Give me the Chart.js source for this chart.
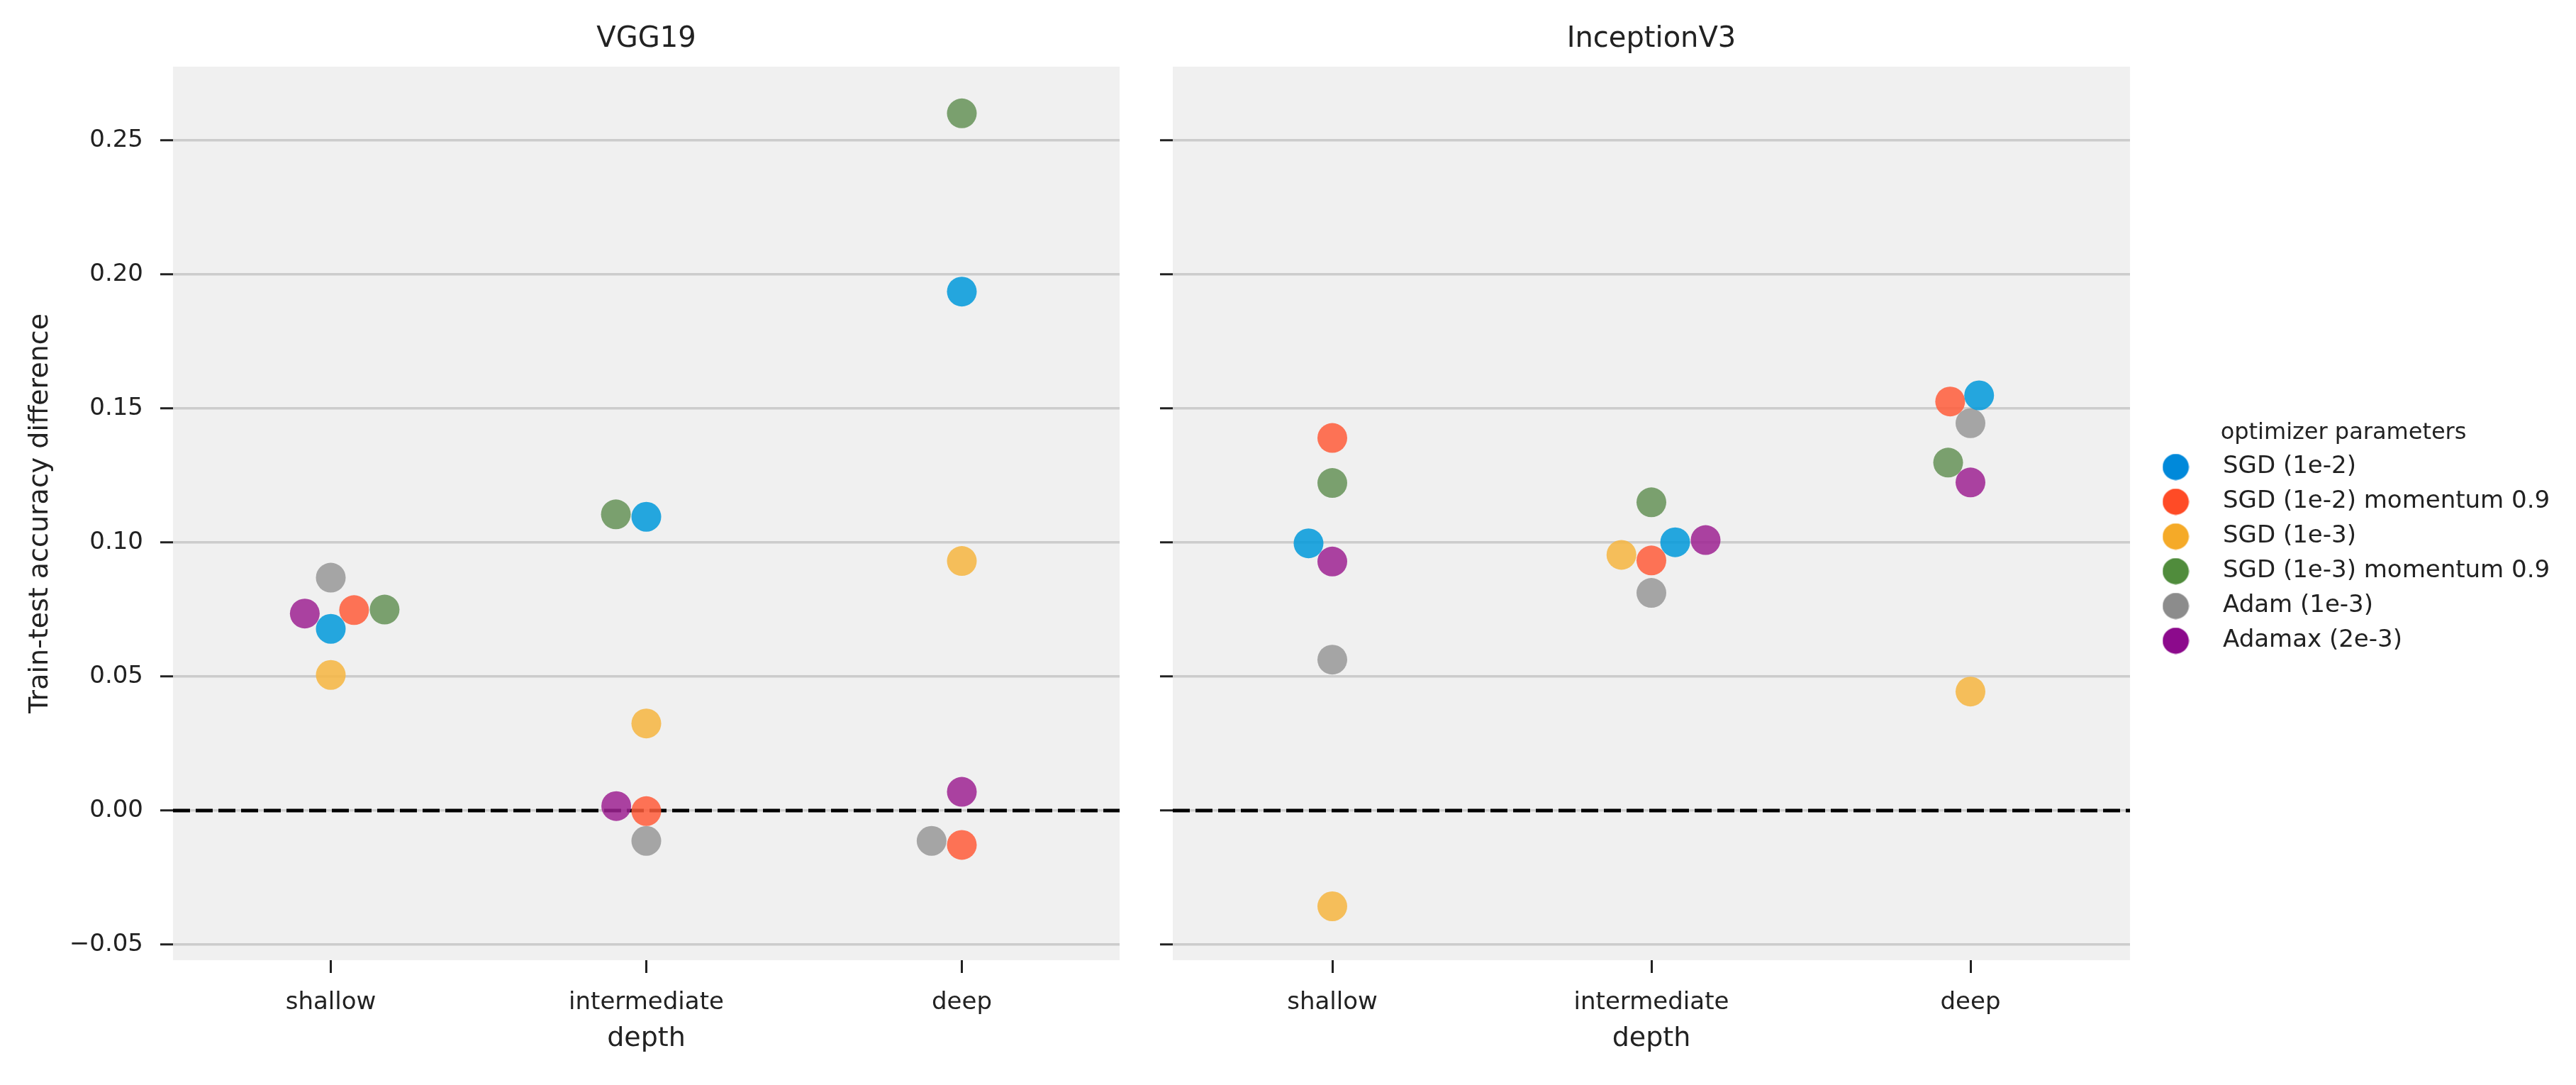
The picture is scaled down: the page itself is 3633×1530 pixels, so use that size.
<!DOCTYPE html>
<html>
<head>
<meta charset="utf-8">
<script src="https://cdn.jsdelivr.net/npm/chart.js@4.4.1/dist/chart.umd.min.js"></script>
<style>
  html, body { margin: 0; padding: 0; background: #ffffff; }
  #wrap { position: relative; width: 3633px; height: 1530px; overflow: hidden; }
  #wrap canvas { position: absolute; top: 0; }
</style>
</head>
<body>
<div id="wrap">
  <canvas id="vgg" width="1600" height="1530" style="left:0"></canvas>
  <canvas id="incep" width="2033" height="1530" style="left:1600px"></canvas>
</div>
<script>
/* ---------- data ---------- */
const depthLabels = ["shallow", "intermediate", "deep"];
const optimizerNames = [
  "SGD (1e-2)",
  "SGD (1e-2) momentum 0.9",
  "SGD (1e-3)",
  "SGD (1e-3) momentum 0.9",
  "Adam (1e-3)",
  "Adamax (2e-3)"
];
// train-test accuracy difference per optimizer, [shallow, intermediate, deep]
const vggValues = [
  [0.0678, 0.1096, 0.1936],
  [0.0748, -0.0002, -0.0128],
  [0.0506, 0.0325, 0.0931],
  [0.0750, 0.1105, 0.2601],
  [0.0869, -0.0113, -0.0113],
  [0.0735, 0.0017, 0.0070]
];
const inceptionValues = [
  [0.0997, 0.1001, 0.1549],
  [0.1390, 0.0933, 0.1526],
  [-0.0357, 0.0954, 0.0444],
  [0.1222, 0.1150, 0.1298],
  [0.0563, 0.0812, 0.1445],
  [0.0929, 0.1009, 0.1224]
];
const yTickValues = [-0.05, 0.00, 0.05, 0.10, 0.15, 0.20, 0.25];
const yTickLabels = ["\u22120.05", "0.00", "0.05", "0.10", "0.15", "0.20", "0.25"];
const refLineX = [-0.5, 2.5];
const refLineY = [0, 0];

/* ---------- style ---------- */
// marker colours (drawn at 0.85 alpha) and the deeper legend swatches
const markerColors = [
  [0, 153, 219],
  [255, 92, 58],
  [246, 181, 64],
  [101, 146, 87],
  [152, 152, 152],
  [158, 34, 146]
];
const legendColors = [
  [0, 137, 218],
  [255, 75, 38],
  [245, 170, 40],
  [80, 140, 60],
  [140, 140, 140],
  [140, 10, 140]
];
const TEXT = "#222222";
const Y_MIN = -0.0558, Y_MAX = 0.2775;
const SWARM_D = 41;   // swarm spacing in px
const PANEL_RIGHT_INCEP = 1404;

Chart.defaults.font.family = "'DejaVu Sans', sans-serif";
Chart.defaults.color = TEXT;

function rgba(c, a) { return `rgba(${c[0]},${c[1]},${c[2]},${a})`; }

function legendDot(c) {
  const cv = document.createElement("canvas");
  cv.width = 38; cv.height = 38;
  const g = cv.getContext("2d");
  g.fillStyle = rgba(c, 1);
  g.beginPath();
  g.arc(19, 19, 18.5, 0, Math.PI * 2);
  g.fill();
  return cv;
}

/* ---------- plugins ---------- */
const panelBackground = {
  id: "panelBackground",
  beforeDraw(chart) {
    const { ctx, chartArea: a } = chart;
    ctx.save();
    ctx.fillStyle = "#f0f0f0";
    ctx.fillRect(a.left, a.top, a.right - a.left, a.bottom - a.top);
    ctx.restore();
  }
};

// beeswarm placement (same idea as seaborn's swarmplot), offsets in px
const swarmPlugin = {
  id: "swarm",
  afterDatasetsUpdate(chart) {
    const groups = {};
    chart.data.datasets.forEach((ds, di) => {
      if (!ds.swarm) return;
      const meta = chart.getDatasetMeta(di);
      meta.data.forEach((pt, i) => {
        const c = ds.data[i].x;
        (groups[c] = groups[c] || []).push(pt);
      });
    });
    Object.values(groups).forEach(pts => {
      const mid = pts[0].x;
      pts.sort((a, b) => b.y - a.y);
      const placed = [];
      pts.forEach(p => {
        const near = placed.filter(q => Math.abs(q.y - p.y) < SWARM_D);
        const cands = [0];
        near.forEach(q => {
          const dy = q.y - p.y;
          const dx = Math.sqrt(Math.max(SWARM_D * SWARM_D - dy * dy, 0)) * 1.05;
          cands.push(q.off - dx, q.off + dx);
        });
        const order = cands
          .map((off, k) => ({ off, k }))
          .sort((a, b) => {
            const d = Math.abs(a.off) - Math.abs(b.off);
            return Math.abs(d) > 1e-6 ? d : a.k - b.k;
          });
        const hit = order.find(c =>
          near.every(q => (q.off - c.off) ** 2 + (q.y - p.y) ** 2 >= SWARM_D * SWARM_D - 1e-6));
        const off = hit ? hit.off : 0;
        p.x = mid + off;
        placed.push({ off, y: p.y });
      });
    });
  }
};

/* ---------- chart builder ---------- */
function buildDatasets(values) {
  const sets = values.map((row, s) => ({
    label: optimizerNames[s],
    swarm: true,
    data: row.map((v, i) => ({ x: i, y: v })),
    backgroundColor: rgba(markerColors[s], 0.85),
    borderWidth: 0,
    pointRadius: 21,
    pointHoverRadius: 21,
    order: 0
  }));
  sets.push({
    label: "zero",
    data: refLineX.map((x, i) => ({ x, y: refLineY[i] })),
    showLine: true,
    borderColor: "#000000",
    borderWidth: 5,
    borderDash: [24, 8],
    pointRadius: 0,
    order: 10
  });
  return sets;
}

function makePanel(canvasId, title, values, isFirst) {
  const cfg = {
    type: "scatter",
    data: { datasets: buildDatasets(values) },
    options: {
      responsive: false,
      animation: false,
      devicePixelRatio: 1,
      events: [],
      layout: { padding: { left: 0, top: 0, right: isFirst ? 6 : 23, bottom: 0 } },
      scales: {
        x: {
          type: "linear",
          min: -0.5, max: 2.5,
          afterBuildTicks: s => { s.ticks = depthLabels.map((_, i) => ({ value: i })); },
          afterFit: s => { s.height = 176; },
          ticks: {
            callback: (v) => depthLabels[v],
            font: { size: 34 },
            color: TEXT,
            padding: 22,
            maxRotation: 0,
            autoSkip: false
          },
          grid: {
            drawOnChartArea: false,
            drawTicks: true,
            tickLength: 18,
            tickColor: TEXT,
            tickWidth: 3
          },
          border: { display: false },
          title: {
            display: true,
            text: "depth",
            font: { size: 38 },
            color: TEXT,
            padding: { top: 0, bottom: 42 }
          }
        },
        y: {
          min: Y_MIN, max: Y_MAX,
          afterBuildTicks: s => { s.ticks = yTickValues.map(v => ({ value: v })); },
          afterFit: s => { s.width = isFirst ? 244 : 54; },
          ticks: {
            display: isFirst,
            callback: (v, i) => yTickLabels[i],
            font: { size: 34 },
            color: TEXT,
            padding: 24
          },
          grid: {
            color: "#cccccc",
            lineWidth: 3.5,
            drawTicks: true,
            tickLength: 18,
            tickColor: TEXT,
            tickWidth: 3
          },
          border: { display: false },
          title: {
            display: isFirst,
            text: "Train-test accuracy difference",
            font: { size: 38 },
            color: TEXT,
            padding: { top: 34, bottom: 0 }
          }
        }
      },
      plugins: {
        tooltip: { enabled: false },
        title: {
          display: true,
          text: title,
          fullSize: false,
          font: { size: 40, weight: "normal" },
          color: TEXT,
          padding: { top: 32, bottom: 14 }
        },
        legend: isFirst ? { display: false } : {
          display: true,
          position: "right",
          align: "center",
          maxWidth: 800,
          title: {
            display: true,
            text: "optimizer parameters",
            font: { size: 32, lineHeight: 1 },
            color: TEXT,
            padding: { top: 0, bottom: 0 }
          },
          labels: {
            usePointStyle: true,
            pointStyleWidth: 99,
            padding: 15,
            font: { size: 34 },
            color: TEXT,
            filter: item => item.datasetIndex < optimizerNames.length,
            generateLabels: chart =>
              Chart.defaults.plugins.legend.labels.generateLabels(chart).map(item => ({
                ...item,
                pointStyle: item.datasetIndex < optimizerNames.length
                  ? legendDot(legendColors[item.datasetIndex]) : item.pointStyle
              }))
          }
        }
      }
    },
    plugins: [panelBackground, swarmPlugin]
  };
  return new Chart(document.getElementById(canvasId), cfg);
}

const vggChart = makePanel("vgg", "VGG19", vggValues, true);
const incepChart = makePanel("incep", "InceptionV3", inceptionValues, false);

// keep the second panel's right edge where the reference has it
const shift = incepChart.chartArea.right - PANEL_RIGHT_INCEP;
if (Math.abs(shift) > 0.5) {
  incepChart.options.layout.padding.right += shift;
  incepChart.update();
}
</script>
</body>
</html>
